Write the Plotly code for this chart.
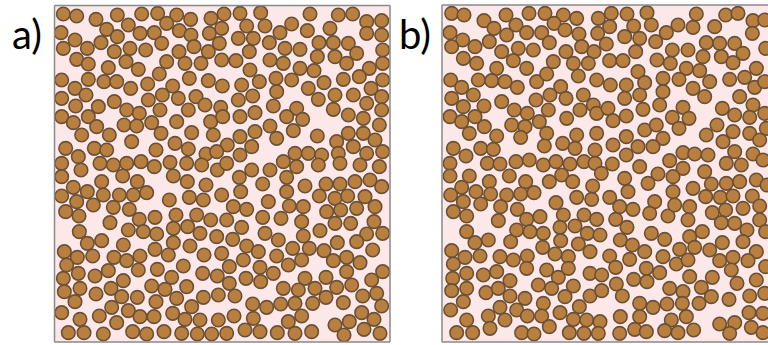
import math
import plotly.graph_objects as go

# ---- Read-off data: particle centres as seen in zoomed tiles (zoom px, 3x), with tile origins ----
# Panel a) tiles
A_TILE1_ORIGIN = (0, 0)
A_TILE1 = [(190,42),(230,48),(288,58),(352,45),(425,42),(473,40),(530,45),(572,58),(633,55),(672,42),
(183,98),(320,88),(385,75),(500,70),(538,92),(420,100),(463,98),(573,105),(628,100),(665,85),
(225,120),(190,145),(262,145),(303,128),(352,110),(343,155),(390,145),(437,150),(485,130),(537,155),(582,140),(625,155),(658,130),
(230,178),(265,192),(325,203),(378,185),(415,208),(500,185),(555,190),(603,190),(665,180),
(185,240),(225,265),(265,238),(312,245),(350,245),(392,265),(443,252),(478,222),(518,258),(568,235),(625,242),(667,258),
(185,295),(227,318),(258,285),(295,320),(343,305),(380,330),(418,340),(445,300),(487,285),(535,295),(588,290),(615,315),(662,322),
(185,350),(220,368),(265,350),(290,380),(372,375),(410,378),(455,368),(480,330),(530,365),(565,330),(632,365),(668,350),
(245,405),(328,405),(395,425),(483,400),(575,398),(640,405),(682,435),
(197,445),(235,470),(283,445),(320,450),(468,450),(525,430),(565,447),(618,462),(650,455),
(185,490),(243,510),(300,490),(340,495),(380,490),(423,485),(463,500),(510,487),(560,490),(605,495),(652,510)]

A_TILE2_ORIGIN = (220, 0)
A_TILE2 = [(12,40),(60,40),(122,38),(270,42),(355,45),(398,42),(440,65),(485,62),
(80,78),(135,78),(180,98),(215,72),(262,92),(330,85),
(10,95),(55,115),(100,115),(148,128),(195,145),(240,148),(297,128),(340,128),(385,130),(440,100),(485,105),
(88,155),(10,180),(48,182),(150,180),(190,190),(240,205),(282,212),(292,170),(345,170),(380,190),(410,160),(448,205),(488,150),(488,190),
(90,210),(10,255),(65,255),(118,245),(168,235),(215,240),(265,265),(312,248),(370,238),(418,230),(453,265),(488,240),
(55,300),(98,288),(10,320),(160,318),(170,275),(230,325),(295,298),(345,285),(400,285),(440,310),(485,290),
(60,350),(105,338),(15,355),(200,350),(248,358),(340,328),(385,345),(430,355),(485,330),(478,375),
(60,410),(105,395),(150,378),(22,410),(170,415),(220,392),(292,408),(350,425),(385,400),(430,400),(465,420),
(25,440),(95,440),(225,460),(265,460),(305,465),(355,460),(400,440),(440,460),(488,455),
(20,490),(60,465),(95,510),(150,510),(190,485),(230,500),(295,495),(360,490),(420,495),(478,500)]

A_TILE3_ORIGIN = (0, 170)
A_TILE3 = [(185,20),(245,18),(305,35),(368,18),(412,35),(465,5),(520,18),(562,35),(618,45),(645,10),
(220,52),(185,78),(262,65),(310,75),(358,75),(400,75),(440,68),(508,90),(568,82),(610,90),(665,75),
(230,95),(197,125),(237,138),(280,105),(340,112),(388,118),(418,148),(465,142),(528,135),(590,135),(632,150),(680,150),
(330,158),(238,185),(385,180),(430,185),(470,192),(520,175),(563,170),(600,190),(650,200),
(262,220),(305,212),(370,225),(465,238),(520,218),(570,228),(612,255),(665,250),(193,245),(232,262),(278,258),(342,262),(380,272),(420,258),(505,255),
(200,285),(235,310),(285,318),(325,302),(415,300),(472,298),(550,288),(608,310),(652,318),(190,325),(370,332),(515,322),
(193,365),(240,355),(288,372),(333,355),(365,380),(412,382),(455,348),(495,358),(530,385),(560,350),(610,382),(655,375),
(225,395),(185,428),(240,448),(298,438),(335,412),(385,422),(420,440),(462,440),(468,395),(518,430),(555,448),(575,410),(600,450),(655,450),
(350,458),(205,488),(252,488),(310,492),(398,485),(440,492),(492,485),(545,490),(592,492),(635,492),(680,490)]

A_TILE4_ORIGIN = (220, 170)
A_TILE4 = [(58,22),(95,5),(155,12),(200,22),(232,5),(292,5),(128,42),(255,48),(318,42),(360,42),(405,35),(450,30),(485,50),
(10,75),(62,65),(200,65),(298,78),(345,85),(383,78),(435,80),(145,95),(40,110),(80,118),(208,108),(250,110),(320,125),(362,120),(410,115),(465,110),
(25,150),(65,172),(128,142),(183,145),(245,155),(300,182),(345,160),(392,160),(462,155),(135,190),(175,210),(250,198),(440,192),(488,190),(38,208),(80,228),
(8,250),(115,245),(218,235),(268,235),(312,242),(352,218),(410,215),(458,240),(70,270),(170,258),(245,270),(340,272),(380,262),(420,278),
(28,290),(120,292),(205,285),(78,325),(122,335),(160,310),(255,325),(318,322),(380,305),(488,305),(28,340),(455,330),
(10,375),(45,378),(190,355),(235,360),(285,355),(350,352),(395,345),(318,382),(428,378),(470,370),(98,402),(140,412),(182,402),(225,400),(278,400),(370,398),(485,408),
(42,438),(100,445),(10,450),(205,455),(245,438),(425,428),(462,448),(345,465),(388,455),(75,480),(120,485),(172,488),(225,490),(275,485),(372,495),(432,478),(480,490)]

# Panel b) tiles
B_TILE1_ORIGIN = (430, 0)
B_TILE1 = [(65,40),(102,45),(162,62),(228,45),(297,40),(345,40),(400,45),(440,55),(505,55),
(60,98),(192,85),(258,75),(372,70),(230,105),(290,98),(335,98),(405,90),(447,102),(503,100),
(98,120),(65,140),(135,140),(178,125),(215,155),(265,145),(310,150),(358,128),(408,155),(455,140),(492,155),
(100,175),(140,190),(250,182),(290,205),(370,185),(430,190),(475,190),(200,205),
(62,240),(95,262),(145,240),(185,242),(225,245),(262,262),(320,245),(350,222),(392,260),(445,228),(500,240),
(65,295),(130,285),(100,320),(162,318),(215,305),(253,330),(292,340),(318,300),(360,285),(408,295),(460,285),(490,315),
(60,350),(95,365),(135,350),(163,380),(245,375),(285,380),(328,365),(355,330),(410,355),(450,330),(500,340),
(118,400),(200,408),(272,412),(350,400),(440,405),(343,438),(398,430),(500,400),
(70,445),(108,468),(152,445),(190,448),(495,450),(435,445),
(60,490),(172,490),(210,492),(258,485),(298,480),(340,495),(378,485),(420,492),(462,485),(495,490)]

B_TILE2_ORIGIN = (593, 0)
B_TILE2 = [(18,55),(55,40),(102,42),(162,38),(310,42),(398,45),(435,40),(480,62),
(50,80),(122,78),(175,75),(220,98),(255,75),(300,82),(365,80),(12,98),(95,110),(140,115),(478,100),(515,60),
(40,132),(10,155),(128,155),(188,125),(238,150),(285,150),(340,128),(380,130),(425,130),(518,145),(330,170),(385,170),(450,160),
(50,182),(90,182),(192,180),(232,190),(280,205),(320,212),(420,188),(490,205),(135,215),
(10,245),(52,255),(100,255),(155,248),(210,235),(258,238),(300,265),(350,245),(410,238),(455,232),(485,262),(515,245),
(95,295),(140,285),(210,275),(8,315),(45,325),(150,328),(200,315),(270,322),(335,290),(388,325),(440,290),(480,315),
(60,362),(100,348),(238,352),(288,355),(258,385),(372,375),(425,345),(470,352),(515,340),(155,390),(190,375),
(25,402),(100,410),(210,415),(340,405),(390,425),(420,395),(470,400),(500,420),(60,435),(135,440),(180,440),(520,385),
(20,460),(100,465),(230,482),(270,458),(305,462),(345,465),(425,455),(480,462),(58,492),(140,500),(270,505),(400,490),(445,495),(510,480)]

B_TILE3_ORIGIN = (430, 170)
B_TILE3 = [(60,18),(118,18),(178,35),(238,18),(287,35),(358,35),(395,15),(428,35),(488,48),(95,52),
(62,75),(138,65),(182,72),(230,75),(272,72),(312,68),(378,98),(440,82),(485,88),(100,95),(152,102),(212,110),(262,118),
(70,125),(110,138),(205,152),(290,148),(330,140),(400,135),(462,135),(500,148),(435,168),(390,172),
(110,185),(175,210),(135,218),(242,215),(260,180),(300,185),(340,190),(392,212),(472,190),(510,195),(445,222),(338,232),
(65,242),(105,262),(150,258),(210,260),(250,270),(292,258),(375,252),(415,260),(480,245),(70,282),(290,295),
(110,310),(160,315),(200,305),(240,332),(350,300),(385,322),(415,295),(480,310),(515,315),(68,325),
(65,362),(110,355),(168,368),(205,355),(240,378),(285,385),(325,345),(365,355),(430,348),(405,380),(480,378),(515,362),
(100,395),(62,420),(210,412),(260,420),(340,400),(448,410),(175,438),(225,450),(292,438),(335,438),(390,428),(430,448),(470,450),(510,455),
(110,450),(80,488),(128,488),(180,475),(275,488),(312,492),(358,470),(418,488),(462,490),(505,490)]

B_TILE4_ORIGIN = (593, 170)
B_TILE4 = [(25,10),(95,25),(135,5),(195,12),(240,20),(272,5),(335,5),(10,50),(165,40),(300,55),(355,42),(400,40),(440,35),(490,30),(522,45),
(50,82),(105,65),(185,95),(240,65),(338,80),(382,82),(420,78),(478,78),(80,110),(120,118),(170,130),(225,138),(245,105),(290,110),(358,128),(398,120),(450,115),(500,108),
(10,145),(68,148),(102,172),(285,150),(385,158),(425,160),(500,150),(175,190),(215,208),(290,200),(328,185),(462,180),(518,185),(22,198),
(82,210),(118,225),(155,245),(260,238),(305,232),(350,240),(388,218),(450,215),(490,245),(50,258),(110,268),(210,260),(250,282),(285,270),(380,272),(420,262),(465,272),
(35,318),(68,292),(160,295),(200,308),(290,320),(358,322),(415,300),(490,330),(122,328),(162,335),(70,342),(432,340),(518,290),
(0,375),(38,378),(88,378),(230,355),(270,365),(325,352),(355,380),(408,388),(470,378),(515,370),(140,400),(180,412),(222,402),(268,400),(318,400),
(82,440),(30,455),(140,440),(235,450),(280,440),(380,462),(425,458),(468,428),(475,472),(510,430),
(20,490),(80,490),(125,478),(160,485),(215,482),(255,488),(302,480),(410,490),(510,488)]

PANEL_LABELS = ["a)", "b)"]

# ---- geometry of the two boxes in the 768x345 picture ----
W, H = 768, 345
A_BOX = dict(left=54.5, right=390.0, top=5.5, bottom=342.0)
B_BOX = dict(left=442.0, right=768.0, top=5.0, bottom=342.0)
ZOOM = 3.0


def to_panel(tiles, box):
    xs, ys = [], []
    for origin, pts in tiles:
        for zx, zy in pts:
            px = origin[0] + zx / ZOOM
            py = origin[1] + zy / ZOOM
            x = px - box["left"]
            y = box["bottom"] - py
            # tiles overlap a little: skip a particle already read in a neighbouring tile
            if any(math.hypot(x - a, y - b) < 8.5 for a, b in zip(xs, ys)):
                continue
            xs.append(x)
            ys.append(y)
    return xs, ys


ax_, ay_ = to_panel([(A_TILE1_ORIGIN, A_TILE1), (A_TILE2_ORIGIN, A_TILE2),
                     (A_TILE3_ORIGIN, A_TILE3), (A_TILE4_ORIGIN, A_TILE4)], A_BOX)
bx_, by_ = to_panel([(B_TILE1_ORIGIN, B_TILE1), (B_TILE2_ORIGIN, B_TILE2),
                     (B_TILE3_ORIGIN, B_TILE3), (B_TILE4_ORIGIN, B_TILE4)], B_BOX)

FILL = "#b97f3f"
EDGE = "#6b5038"
BG = "#fce8e8"
BORDER = "#8a8a8a"
marker = dict(size=13.5, color=FILL, line=dict(color=EDGE, width=1.6))

fig = go.Figure()
fig.add_trace(go.Scatter(x=ax_, y=ay_, mode="markers", marker=marker,
                         xaxis="x", yaxis="y", hoverinfo="skip", showlegend=False))
fig.add_trace(go.Scatter(x=bx_, y=by_, mode="markers", marker=marker,
                         xaxis="x2", yaxis="y2", hoverinfo="skip", showlegend=False))


def dom_x(box):
    return [box["left"] / W, min(box["right"], W) / W]


def dom_y(box):
    return [(H - box["bottom"]) / H, (H - box["top"]) / H]


ax_common = dict(showgrid=False, zeroline=False, showticklabels=False, ticks="", showline=False)
fig.update_layout(
    width=W, height=H, autosize=False,
    margin=dict(l=0, r=0, t=0, b=0),
    paper_bgcolor="white", plot_bgcolor=BG,
    xaxis=dict(domain=dom_x(A_BOX), range=[0, A_BOX["right"] - A_BOX["left"]], anchor="y", **ax_common),
    yaxis=dict(domain=dom_y(A_BOX), range=[0, A_BOX["bottom"] - A_BOX["top"]], anchor="x", **ax_common),
    xaxis2=dict(domain=dom_x(B_BOX), range=[0, min(B_BOX["right"], W) - B_BOX["left"]], anchor="y2", **ax_common),
    yaxis2=dict(domain=dom_y(B_BOX), range=[0, B_BOX["bottom"] - B_BOX["top"]], anchor="x2", **ax_common),
)

# box outlines (panel b is cut off at the right edge of the picture)
line = dict(color=BORDER, width=1.5)
for box, sides in ((A_BOX, "ltrb"), (B_BOX, "ltb")):
    x0, x1 = box["left"] / W, box["right"] / W
    y0, y1 = (H - box["bottom"]) / H, (H - box["top"]) / H
    segs = {"l": (x0, y0, x0, y1), "r": (x1, y0, x1, y1),
            "t": (x0, y1, x1, y1), "b": (x0, y0, x1, y0)}
    for s in sides:
        a, b, c, d = segs[s]
        fig.add_shape(type="line", xref="paper", yref="paper", x0=a, y0=b, x1=c, y1=d, line=line)

for label, xc in zip(PANEL_LABELS, (27, 415)):
    fig.add_annotation(text=label, xref="paper", yref="paper", x=xc / W, y=1 - 34 / H,
                       xanchor="center", yanchor="middle", showarrow=False,
                       font=dict(family="Lato, Open Sans, sans-serif", size=40, color="black"))

fig.write_html("out.html", config={"displayModeBar": False},
               post_script="document.body.style.margin='0';document.body.style.padding='0';"
                           "document.documentElement.style.overflow='hidden';")
